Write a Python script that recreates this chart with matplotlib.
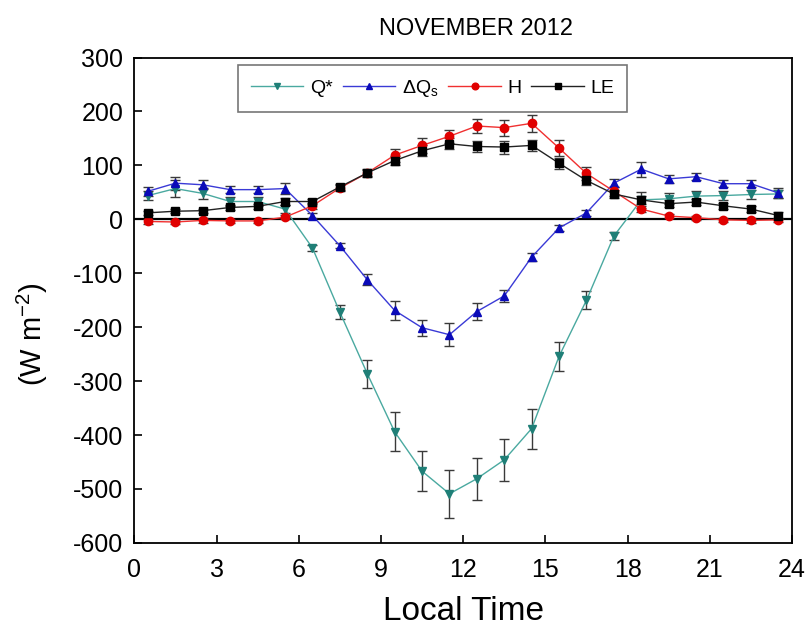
import matplotlib
matplotlib.use("Agg")
import matplotlib.pyplot as plt
import numpy as np

plt.rcParams["font.family"] = ["Liberation Sans", "DejaVu Sans"]
plt.rcParams["mathtext.fontset"] = "custom"
plt.rcParams["mathtext.rm"] = "Liberation Sans"
plt.rcParams["mathtext.it"] = "Liberation Sans:italic"
plt.rcParams["mathtext.bf"] = "Liberation Sans:bold"
plt.rcParams["axes.unicode_minus"] = False

# Hourly means (local time, centre of each hour) for November 2012, W m-2
hours = [0.5, 1.5, 2.5, 3.5, 4.5, 5.5, 6.5, 7.5, 8.5, 9.5, 10.5, 11.5,
         12.5, 13.5, 14.5, 15.5, 16.5, 17.5, 18.5, 19.5, 20.5, 21.5, 22.5, 23.5]

q_star = [44, 57, 48, 33, 33, 19, -53, -172, -286, -394, -467, -509,
          -481, -446, -388, -254, -150, -31, 36, 38, 43, 44, 46, 47]
q_star_err = [8, 15, 10, 8, 8, 8, 6, 13, 26, 36, 37, 44,
              39, 39, 37, 27, 17, 8, 15, 10, 10, 8, 8, 8]

dqs = [52, 67, 64, 55, 55, 57, 7, -49, -112, -169, -201, -214,
       -171, -142, -70, -16, 12, 67, 93, 75, 79, 66, 66, 49]
dqs_err = [8, 12, 8, 7, 7, 10, 5, 5, 10, 18, 15, 21,
           16, 11, 8, 5, 5, 8, 14, 7, 7, 7, 7, 9]

h_flux = [-4, -5, -2, -3, -3, 4, 25, 58, 86, 119, 137, 154,
          173, 170, 178, 132, 85, 52, 19, 6, 3, -1, -2, -1]
h_err = [4, 4, 4, 4, 4, 4, 5, 6, 8, 12, 14, 12,
         13, 15, 16, 15, 12, 8, 6, 4, 4, 4, 4, 4]

le_flux = [12, 15, 16, 22, 24, 33, 33, 60, 86, 109, 127, 140,
           135, 134, 137, 104, 72, 47, 36, 29, 32, 25, 19, 7]
le_err = [4, 4, 4, 5, 5, 6, 5, 5, 6, 8, 10, 10,
          10, 12, 10, 10, 8, 8, 8, 6, 6, 6, 6, 6]

x_ticks = [0, 3, 6, 9, 12, 15, 18, 21, 24]
y_ticks = [-600, -500, -400, -300, -200, -100, 0, 100, 200, 300]

fig = plt.figure(figsize=(8.09, 6.32), dpi=100)
ax = fig.add_axes([0.166, 0.141, 0.813, 0.768])

series = [
    (q_star, q_star_err, "Q*", "v", "#4aa9a0", "#1f7f77"),
    (dqs, dqs_err, r"$\Delta$Q$_\mathregular{s}$", "^", "#3a3ad6", "#0a0ab8"),
    (h_flux, h_err, "H", "o", "#f03030", "#e00000"),
    (le_flux, le_err, "LE", "s", "#222222", "#000000"),
]

ax.axhline(0, color="black", lw=1.6, zorder=1)

for vals, err, label, mk, lc, mc in series:
    ax.errorbar(hours, vals, yerr=err, fmt="none", ecolor="#3a3a3a",
                elinewidth=1.0, capsize=3.5, capthick=1.0, zorder=2)
    ax.plot(hours, vals, color=lc, lw=1.0, marker=mk, markersize=6,
            markerfacecolor=mc, markeredgecolor=mc, label=label, zorder=3)

ax.set_xlim(0, 24)
ax.set_ylim(-600, 300)
ax.set_xticks(x_ticks)
ax.set_yticks(y_ticks)
ax.tick_params(direction="in", length=6, width=1.2, labelsize=18,
               top=False, right=False)
ax.tick_params(axis="x", pad=11)
ax.tick_params(axis="y", pad=8)
for sp in ax.spines.values():
    sp.set_linewidth(1.3)

ax.set_title("NOVEMBER 2012", fontsize=17, pad=16, x=0.52)
ax.set_xlabel("Local Time", fontsize=24, labelpad=10)
ax.set_ylabel(r"(W m$^\mathregular{-2}$)", fontsize=21)
ax.yaxis.set_label_coords(-0.128, 0.43)

leg = ax.legend(loc="upper left", bbox_to_anchor=(0.158, 0.984), ncol=4,
                fontsize=14, frameon=True, fancybox=False, edgecolor="#555555",
                handlelength=2.7, columnspacing=0.5, handletextpad=0.35,
                borderpad=0.65, borderaxespad=0.0, markerscale=0.8)
leg.get_frame().set_linewidth(1.2)

fig.savefig("out.png", dpi=100, facecolor="white")
